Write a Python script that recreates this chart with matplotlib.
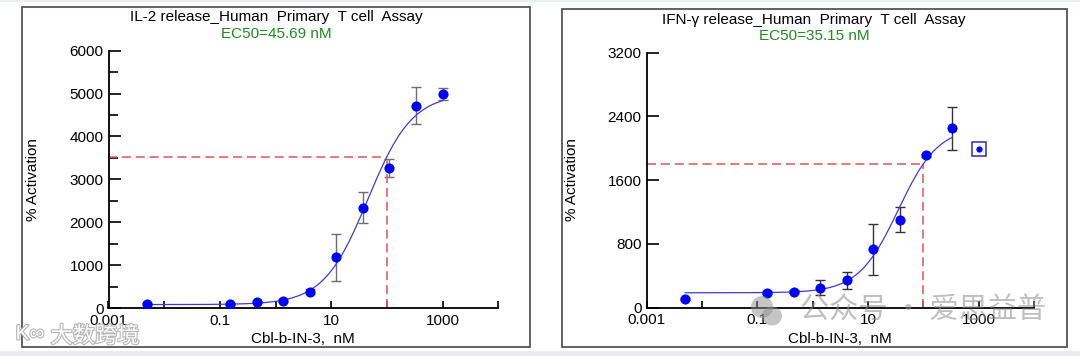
import numpy as np
import matplotlib
matplotlib.use("Agg")
import matplotlib.pyplot as plt
from matplotlib.patches import Rectangle, Ellipse
from matplotlib.ticker import FixedLocator, FuncFormatter, MultipleLocator
import matplotlib.patheffects as pe

plt.rcParams['font.family'] = ['Liberation Sans', 'DejaVu Sans']
plt.rcParams['lines.scale_dashes'] = False

# ---------------- data ----------------
conc = [0.005, 0.152, 0.457, 1.37, 4.12, 12.3, 37.0, 111.0, 333.0, 1000.0]

il2_mean = [90, 100, 140, 170, 379, 1178, 2339, 3268, 4716, 4987]
il2_err = [20, 25, 30, 35, 60, 543, 368, 209, 434, 135]
il2_fit = dict(bottom=80, top=5000, ec50=45.69, hill=1.09)
il2_title = "IL-2 release_Human  Primary  T cell  Assay"
il2_ec50_text = "EC50=45.69 nM"

ifn_mean = [104, 188, 196, 246, 340, 730, 1105, 1911, 2250]
ifn_err = [15, 20, 20, 95, 105, 320, 163, 20, 267]
ifn_excluded_x = [1000.0]
ifn_excluded_y = [1994]
ifn_fit = dict(bottom=185, top=2270, ec50=35.15, hill=1.2)
ifn_title = "IFN-γ release_Human  Primary  T cell  Assay"
ifn_ec50_text = "EC50=35.15 nM"

marker_conc = 100.0
x_ticks = [0.001, 0.01, 0.1, 1, 10, 100, 1000, 10000]
x_labels = {0.001: "0.001", 0.1: "0.1", 10: "10", 1000: "1000"}
xlabel = "Cbl-b-IN-3,  nM"
ylabel = "% Activation"

W, H = 1080, 356


def fx(px):
    return px / W


def fy(py):
    return 1 - py / H


def four_pl(x, bottom, top, ec50, hill):
    x = np.asarray(x, dtype=float)
    return bottom + (top - bottom) / (1 + (ec50 / x) ** hill)


fig = plt.figure(figsize=(W / 100, H / 100), dpi=100)
fig.patch.set_facecolor('white')

# light strips on top and bottom of image
fig.patches.append(Rectangle((0, 0), 1, fy(350.5), transform=fig.transFigure,
                             facecolor='#e9ecf0', edgecolor='none', zorder=0))
fig.patches.append(Rectangle((0, fy(1.5)), 1, 1 - fy(1.5), transform=fig.transFigure,
                             facecolor='#e9ecf0', edgecolor='none', zorder=0))

# panel boxes
for (x0, y0, x1, y1) in [(21.7, 6.7, 530, 346.7), (561.7, 9.3, 1067, 346.7)]:
    fig.patches.append(Rectangle((fx(x0), fy(y1)), fx(x1) - fx(x0), fy(y0) - fy(y1),
                                 transform=fig.transFigure, facecolor='none',
                                 edgecolor='#555555', linewidth=1.3, zorder=1))


def make_panel(rect_px, mean, err, fit, x_end, ymax, ymajor, yminor, ecolor,
               title, ec50txt, title_xy, ec50_xy, ylab_xy, xlab_xy):
    x0, y0, x1, y1 = rect_px
    ax = fig.add_axes([fx(x0), fy(y1), fx(x1) - fx(x0), fy(y0) - fy(y1)])
    ax.set_facecolor('none')
    ax.set_xscale('log')
    ax.set_xlim(1e-3, 1e4)
    ax.set_ylim(0, ymax)
    for s in ['top', 'right']:
        ax.spines[s].set_visible(False)
    for s in ['left', 'bottom']:
        ax.spines[s].set_linewidth(1.3)
        ax.spines[s].set_color('black')

    ax.xaxis.set_major_locator(FixedLocator(x_ticks))
    ax.xaxis.set_minor_locator(FixedLocator([]))
    ax.xaxis.set_major_formatter(FuncFormatter(
        lambda v, p: next((lab for k, lab in x_labels.items() if abs(np.log10(v) - np.log10(k)) < 1e-6), "")))
    ax.yaxis.set_major_locator(MultipleLocator(ymajor))
    if yminor:
        ax.yaxis.set_minor_locator(MultipleLocator(yminor))
        ax.tick_params(axis='y', which='minor', direction='in', length=6.5, width=1.2, color='black')
    ax.tick_params(axis='x', which='major', direction='in', length=5, width=1.2,
                   labelsize=11, pad=4, color='black')
    ax.tick_params(axis='y', which='major', direction='in', length=8.5, width=1.2,
                   labelsize=11, pad=3.5, color='black')

    xs = conc[:len(mean)]
    # fitted curve
    xc = np.logspace(np.log10(conc[0]), np.log10(x_end), 400)
    ax.plot(xc, four_pl(xc, **fit), color='#3c3cdc', lw=0.9, zorder=3)
    # error bars
    ax.errorbar(xs, mean, yerr=err, fmt='none', ecolor=ecolor, elinewidth=1.0,
                capsize=3.8, capthick=1.0, zorder=2)
    ax.plot(xs, mean, 'o', color='#0000ff', markersize=7.3, markeredgewidth=0, zorder=4)
    # dashed marker lines
    ym = float(four_pl(marker_conc, **fit))
    ax.plot([1e-3, marker_conc], [ym, ym], color='#e06464', lw=1.2,
            dashes=(6.5, 3.5), zorder=2.5, clip_on=False)
    ax.plot([marker_conc, marker_conc], [0, ym], color='#e06464', lw=1.2,
            dashes=(6.5, 3.5), zorder=2.5, clip_on=False)

    fig.text(fx(title_xy[0]), fy(title_xy[1]), title, ha='center', va='center', fontsize=11)
    fig.text(fx(ec50_xy[0]), fy(ec50_xy[1]), ec50txt, ha='center', va='center',
             fontsize=11, color='#1e8c1e')
    fig.text(fx(ylab_xy[0]), fy(ylab_xy[1]), ylabel, ha='center', va='center',
             rotation=90, fontsize=11)
    fig.text(fx(xlab_xy[0]), fy(xlab_xy[1]), xlabel, ha='center', va='center', fontsize=11)
    return ax


ax1 = make_panel((108.5, 50.7, 498.3, 308.0), il2_mean, il2_err, il2_fit, 1000.0,
                 6000, 1000, 500, '#6e6e6e', il2_title, il2_ec50_text,
                 (276, 17), (276, 33.5), (33, 180), (303, 339))

ax2 = make_panel((646.5, 52.7, 1034.3, 307.5), ifn_mean, ifn_err, ifn_fit, 333.0,
                 3200, 800, None, '#333333', ifn_title, ifn_ec50_text,
                 (814, 20), (814, 36), (572.5, 180), (840, 339))
ax2.plot(ifn_excluded_x, ifn_excluded_y, 's', markersize=9.5, markerfacecolor='none',
         markeredgecolor='#2a2ad0', markeredgewidth=1.1, zorder=4)
ax2.plot(ifn_excluded_x, ifn_excluded_y, 'o', color='#0000ff', markersize=4.5,
         markeredgewidth=0, zorder=5)

# watermarks
fig.text(fx(95), fy(336), "大数跨境", ha='center', va='center', fontsize=16,
         family=['Noto Sans CJK SC', 'DejaVu Sans'], color='white', alpha=0.95,
         path_effects=[pe.withStroke(linewidth=1.6, foreground='#b4b4b4')], zorder=10)
fig.text(fx(30), fy(334), "K∞", ha='center', va='center', fontsize=15,
         color='white', path_effects=[pe.withStroke(linewidth=1.6, foreground='#b4b4b4')], zorder=10)
fig.text(fx(923), fy(311), "公众号 · 爱思益普", ha='center', va='center', fontsize=21,
         family=['Noto Sans CJK SC', 'DejaVu Sans'], color='#8c8c8c', alpha=0.55, zorder=10)
fig.patches.append(Ellipse((fx(762), fy(307)), fx(22), 22 / H, transform=fig.transFigure,
                           facecolor='#8c8c8c', alpha=0.5, edgecolor='none', zorder=10))
fig.patches.append(Ellipse((fx(772), fy(316)), fx(20), 19 / H, transform=fig.transFigure,
                           facecolor='#8c8c8c', alpha=0.5, edgecolor='none', zorder=10))

fig.savefig("out.png", dpi=100)
